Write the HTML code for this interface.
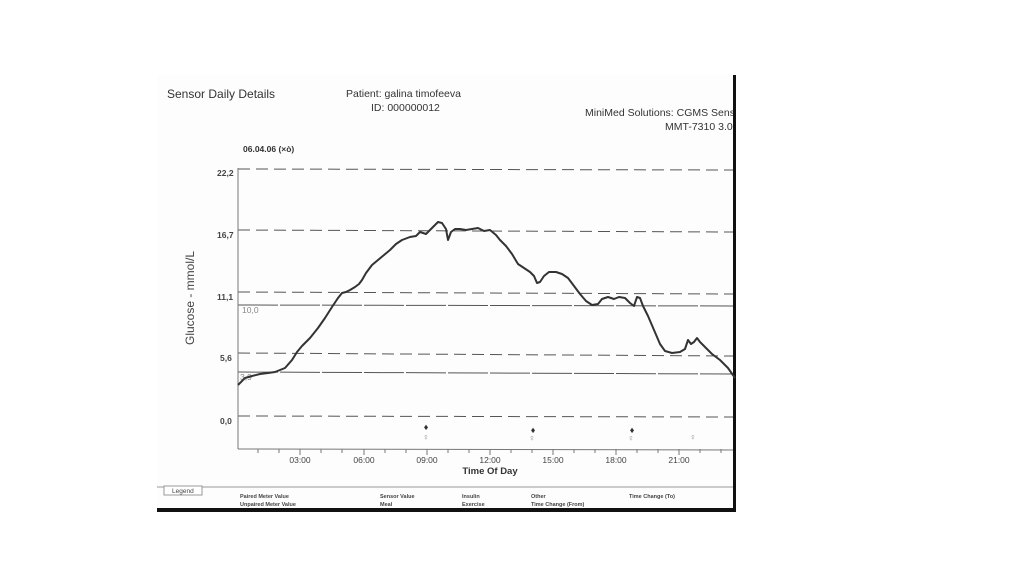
<!DOCTYPE html>
<html><head><meta charset="utf-8"><style>
body{margin:0;background:#fff;width:1024px;height:574px;overflow:hidden;font-family:"Liberation Sans",sans-serif}
</style></head><body>
<svg width="1024" height="574" xmlns="http://www.w3.org/2000/svg" font-family="Liberation Sans, sans-serif">
<defs><clipPath id="c"><rect x="157" y="75" width="576" height="437"/></clipPath></defs>
<rect x="157" y="75" width="579" height="437" fill="#fdfdfd"/>
<g clip-path="url(#c)">
<text x="167" y="98" font-size="12" fill="#333">Sensor Daily Details</text>
<text x="346" y="97" font-size="10.5" fill="#333">Patient: galina timofeeva</text>
<text x="371" y="111" font-size="10.5" fill="#333">ID: 000000012</text>
<text x="585" y="116" font-size="10.5" fill="#333">MiniMed Solutions: CGMS Sensor</text>
<text x="665" y="130" font-size="10.5" fill="#333">MMT-7310 3.00</text>
</g>
<rect x="733" y="75" width="3" height="437" fill="#111"/>
<rect x="157" y="508" width="579" height="4" fill="#111"/>
<text x="243" y="152" font-size="8.5" font-weight="bold" fill="#333">06.04.06 (×ò)</text>
<g stroke="#555" stroke-width="1" stroke-dasharray="12,6" fill="none">
<line x1="238" y1="169" x2="733" y2="170"/>
<line x1="238" y1="230" x2="733" y2="232"/>
<line x1="238" y1="292" x2="733" y2="294"/>
<line x1="238" y1="305" x2="733" y2="306" stroke-dasharray="40,2"/>
<line x1="238" y1="353" x2="733" y2="356"/>
<line x1="238" y1="372" x2="733" y2="374" stroke-dasharray="40,2"/>
<line x1="238" y1="416" x2="733" y2="417"/>
</g>
<line x1="238" y1="168" x2="238" y2="449" stroke="#777"/>
<line x1="238" y1="449" x2="733" y2="450" stroke="#777"/>
<g stroke="#777"><line x1="258" y1="449" x2="258" y2="453"/><line x1="279" y1="449" x2="279" y2="453"/><line x1="300" y1="449" x2="300" y2="455"/><line x1="321" y1="449" x2="321" y2="453"/><line x1="342" y1="449" x2="342" y2="453"/><line x1="364" y1="449" x2="364" y2="455"/><line x1="385" y1="449" x2="385" y2="453"/><line x1="406" y1="449" x2="406" y2="453"/><line x1="427" y1="449" x2="427" y2="455"/><line x1="448" y1="449" x2="448" y2="453"/><line x1="469" y1="449" x2="469" y2="453"/><line x1="490" y1="449" x2="490" y2="455"/><line x1="511" y1="449" x2="511" y2="453"/><line x1="532" y1="449" x2="532" y2="453"/><line x1="553" y1="449" x2="553" y2="455"/><line x1="574" y1="449" x2="574" y2="453"/><line x1="595" y1="449" x2="595" y2="453"/><line x1="616" y1="449" x2="616" y2="455"/><line x1="637" y1="449" x2="637" y2="453"/><line x1="658" y1="449" x2="658" y2="453"/><line x1="679" y1="449" x2="679" y2="455"/><line x1="700" y1="449" x2="700" y2="453"/><line x1="721" y1="449" x2="721" y2="453"/></g>
<g font-size="8.5" fill="#444">
<text x="217" y="176" font-weight="bold">22,2</text><text x="217" y="238" font-weight="bold">16,7</text><text x="217" y="300" font-weight="bold">11,1</text><text x="242" y="313" fill="#888">10,0</text><text x="220" y="361" font-weight="bold">5,6</text><text x="240" y="380" fill="#888">3,9</text><text x="220" y="424" font-weight="bold">0,0</text>
</g>
<g font-size="8.5" fill="#444" text-anchor="middle"><text x="300" y="463">03:00</text><text x="364" y="463">06:00</text><text x="427" y="463">09:00</text><text x="490" y="463">12:00</text><text x="553" y="463">15:00</text><text x="616" y="463">18:00</text><text x="679" y="463">21:00</text></g>
<text x="490" y="474" font-size="9.5" font-weight="bold" fill="#333" text-anchor="middle">Time Of Day</text>
<text transform="translate(194,345) rotate(-90)" font-size="12" fill="#444">Glucose - mmol/L</text>
<polyline fill="none" stroke="#333" stroke-width="2" stroke-linejoin="round" points="238,385 245,378 252,376 260,374 268,373 275,372 285,368 292,360 297,352 302,346 310,338 318,328 325,318 332,307 338,298 342,293 346,292 350,290 355,287 359,284 362,280 366,273 372,265 378,260 384,255 390,250 396,244 402,240 410,237 416,236 420,232 426,234 430,230 434,226 438,222 442,223 446,229 448,240 451,232 455,229 460,229 466,230 472,229 478,228 484,231 490,230 496,235 500,240 506,246 512,254 518,264 524,268 530,272 534,276 537,283 540,282 544,276 549,272 556,272 562,274 568,278 574,286 580,294 586,301 592,305 598,304 602,299 608,297 614,299 619,297 625,298 630,303 634,306 637,297 640,298 643,306 648,316 654,330 660,344 665,351 672,353 680,352 685,349 688,340 691,344 694,342 697,338 700,342 705,347 712,354 720,360 728,368 735,378"/>
<g fill="#333" font-size="9" text-anchor="middle"><text x="426" y="430">♦</text><text x="426" y="440" fill="#888">♀</text><text x="533" y="433">♦</text><text x="532" y="441" fill="#888">♀</text><text x="632" y="433">♦</text><text x="631" y="441" fill="#888">♀</text><text x="693" y="440" fill="#888">♀</text></g>
<line x1="157" y1="487" x2="733" y2="487" stroke="#999"/>
<rect x="164" y="486" width="38" height="9" fill="#fff" stroke="#999"/>
<text x="172" y="493" font-size="6.5" fill="#444">Legend</text>
<g font-size="5.5" fill="#444" font-weight="bold"><text x="240" y="498">Paired Meter Value</text><text x="240" y="506">Unpaired Meter Value</text><text x="380" y="498">Sensor Value</text><text x="380" y="506">Meal</text><text x="462" y="498">Insulin</text><text x="462" y="506">Exercise</text><text x="531" y="498">Other</text><text x="531" y="506">Time Change (From)</text><text x="629" y="498">Time Change (To)</text></g>
</svg>
</body></html>
